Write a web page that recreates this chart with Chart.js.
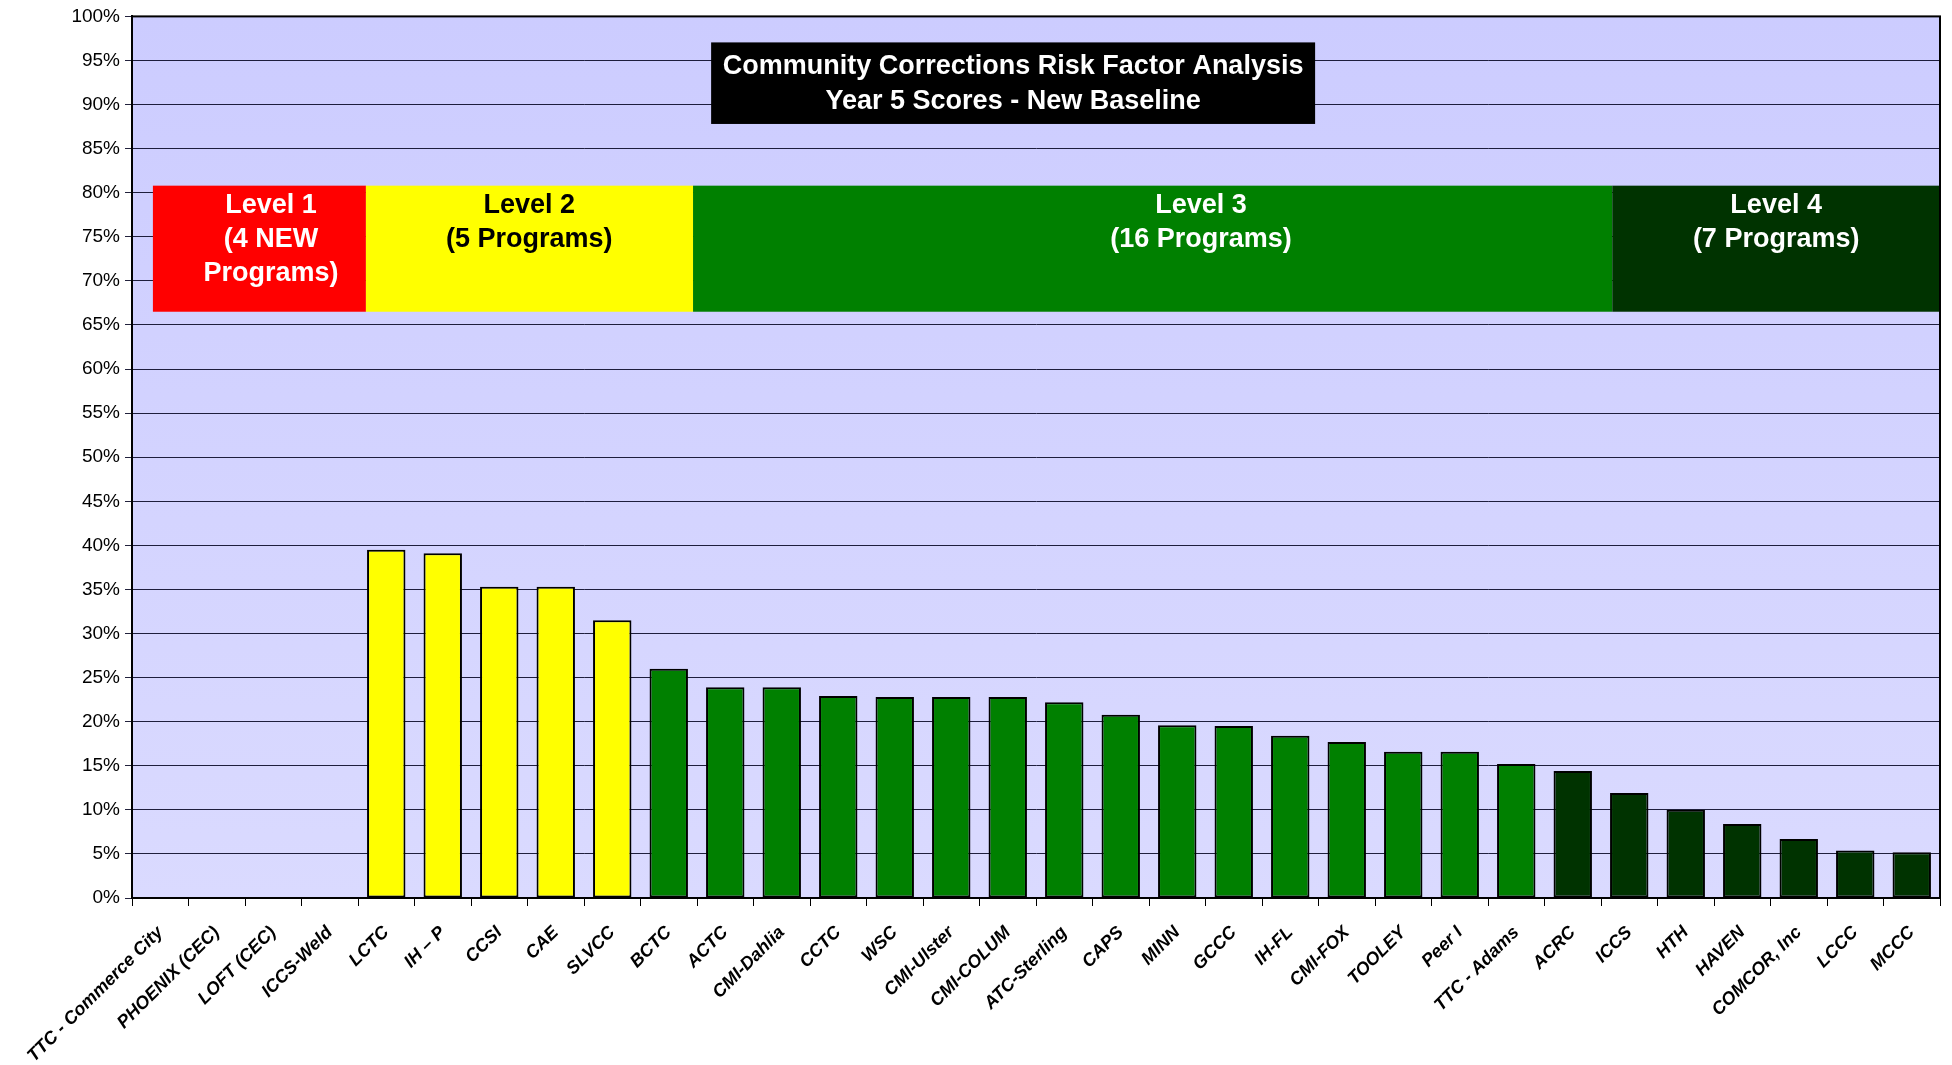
<!DOCTYPE html>
<html>
<head>
<meta charset="utf-8">
<script src="https://cdn.jsdelivr.net/npm/chart.js@4.4.1/dist/chart.umd.min.js"></script>
<style>
  html, body { margin: 0; padding: 0; background: #fff; }
</style>
</head>
<body>
<canvas id="chart" width="1952" height="1065"></canvas>
<script>
// programs in chart order
const programs = ['TTC - Commerce City', 'PHOENIX (CEC)', 'LOFT (CEC)', 'ICCS-Weld', 'LCTC', 'IH \u2013 P', 'CCSI', 'CAE', 'SLVCC',
  'BCTC', 'ACTC', 'CMI-Dahlia', 'CCTC', 'WSC', 'CMI-Ulster', 'CMI-COLUM', 'ATC-Sterling', 'CAPS', 'MINN', 'GCCC',
  'IH-FL', 'CMI-FOX', 'TOOLEY', 'Peer I', 'TTC - Adams', 'ACRC', 'ICCS', 'HTH', 'HAVEN', 'COMCOR, Inc', 'LCCC', 'MCCC'];

// risk factor score, percent (new programs have no score yet)
const scores = [null, null, null, null, 39.5, 39.1, 35.3, 35.3, 31.5,
  26.0, 23.9, 23.9, 22.9, 22.8, 22.8, 22.8, 22.2, 20.8, 19.6, 19.5,
  18.4, 17.7, 16.6, 16.6, 15.2, 14.4, 11.9, 10.0, 8.4, 6.7, 5.4, 5.2];

const levelOf = [1, 1, 1, 1, 2, 2, 2, 2, 2,
  3, 3, 3, 3, 3, 3, 3, 3, 3, 3, 3, 3, 3, 3, 3, 3,
  4, 4, 4, 4, 4, 4, 4];

const levelText = [
  ['Level 1', '(4 NEW', 'Programs)'],
  ['Level 2', '(5 Programs)'],
  ['Level 3', '(16 Programs)'],
  ['Level 4', '(7 Programs)']
];
const titleLines = ['Community Corrections Risk Factor Analysis', 'Year 5 Scores - New Baseline'];

const levelFill = ['#FF0000', '#FFFF00', '#008000', '#003300'];
const levelInk = ['#FFFFFF', '#000000', '#FFFFFF', '#FFFFFF'];

// band layout, in category widths from the left edge of the plot
const bandEdges = [0.37, 4.14, 9.93, 26.2, 32];
const bandTextAt = [2.46, 7.03, 18.92, 29.1];
const bandTop = 80.8, bandBottom = 66.5;
const titleBox = { x0: 10.25, x1: 20.94, top: 97.05, bottom: 87.8 };

const FONT = "'Liberation Sans', Arial, sans-serif";

const plotBack = {
  id: 'plotBack',
  beforeDraw(chart) {
    const { ctx, chartArea: a } = chart;
    const g = ctx.createLinearGradient(0, a.top, 0, a.bottom);
    g.addColorStop(0, '#CCCCFF');
    g.addColorStop(1, '#DADAFF');
    ctx.save();
    ctx.fillStyle = g;
    ctx.fillRect(a.left, a.top, a.right - a.left, a.bottom - a.top);
    ctx.restore();
  }
};

const bands = {
  id: 'bands',
  beforeDatasetsDraw(chart) {
    const { ctx, chartArea: a, scales } = chart;
    const cw = (a.right - a.left) / programs.length;
    const xAt = u => a.left + u * cw;
    const y = scales.y;
    ctx.save();
    ctx.font = 'bold 27px ' + FONT;
    ctx.textAlign = 'center';
    ctx.textBaseline = 'middle';
    const yt = y.getPixelForValue(bandTop), yb = y.getPixelForValue(bandBottom);
    for (let i = 0; i < 4; i++) {
      ctx.fillStyle = levelFill[i];
      ctx.fillRect(xAt(bandEdges[i]), yt, xAt(bandEdges[i + 1]) - xAt(bandEdges[i]), yb - yt);
      ctx.fillStyle = levelInk[i];
      levelText[i].forEach((t, k) => ctx.fillText(t, xAt(bandTextAt[i]), yt + 20 + k * 34));
    }
    // title
    const tx0 = xAt(titleBox.x0), tx1 = xAt(titleBox.x1);
    const ty0 = y.getPixelForValue(titleBox.top), ty1 = y.getPixelForValue(titleBox.bottom);
    ctx.fillStyle = '#000';
    ctx.fillRect(tx0, ty0, tx1 - tx0, ty1 - ty0);
    ctx.fillStyle = '#fff';
    const cy = (ty0 + ty1) / 2;
    ctx.fillText(titleLines[0], (tx0 + tx1) / 2, cy - 17);
    ctx.fillText(titleLines[1], (tx0 + tx1) / 2, cy + 18);
    ctx.restore();
  }
};

const frame = {
  id: 'frame',
  afterDraw(chart) {
    const { ctx, chartArea: a } = chart;
    ctx.save();
    ctx.strokeStyle = '#000';
    ctx.lineWidth = 2;
    ctx.strokeRect(a.left, a.top, a.right - a.left, a.bottom - a.top);
    ctx.restore();
  }
};

new Chart(document.getElementById('chart'), {
  type: 'bar',
  data: {
    labels: programs,
    datasets: [{
      data: scores,
      backgroundColor: levelOf.map(l => levelFill[l - 1]),
      borderColor: '#000',
      borderWidth: 2,
      borderSkipped: false,
      barPercentage: 0.68,
      categoryPercentage: 1.0
    }]
  },
  options: {
    responsive: false,
    animation: false,
    layout: { padding: { top: 15, right: 12, left: 0, bottom: 0 } },
    plugins: { legend: { display: false }, tooltip: { enabled: false } },
    scales: {
      x: {
        afterFit(s) { s.height = 167; },
        grid: { drawOnChartArea: false, tickLength: 8, color: '#000', offset: true },
        border: { color: '#000', width: 2 },
        ticks: {
          autoSkip: false, minRotation: 45, maxRotation: 45, color: '#000', padding: 16,
          font: { family: FONT, size: 18, weight: 'bold', style: 'italic' }
        }
      },
      y: {
        min: 0, max: 100,
        afterFit(s) { s.width = 132; },
        grid: { color: 'rgba(10,10,40,0.9)', lineWidth: 1, tickLength: 7 },
        border: { color: '#000', width: 2 },
        ticks: {
          stepSize: 5, color: '#000', padding: 5,
          font: { family: FONT, size: 19 },
          callback: v => v + '%'
        }
      }
    }
  },
  plugins: [plotBack, bands, frame]
});
</script>
</body>
</html>
